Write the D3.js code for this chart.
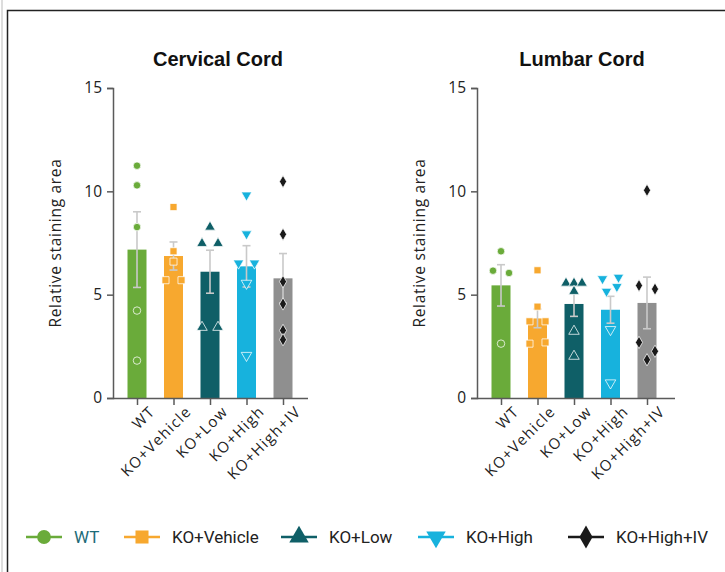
<!DOCTYPE html>
<html>
<head>
<meta charset="utf-8">
<script src="https://cdn.jsdelivr.net/npm/d3@7"></script>
<style>
  body { margin: 0; background: #fff; }
  svg { display: block; }
</style>
</head>
<body>
<svg id="chart" width="725" height="572"></svg>
<script>
// groups and colours
const groups = ["WT", "KO+Vehicle", "KO+Low", "KO+High", "KO+High+IV"];
const barColors = ["#6aab3a", "#f7a82f", "#0f5f67", "#17b2dd", "#8f8f8f"];
const dotColors = ["#6aab3a", "#f7a82f", "#0f5f67", "#17b2dd", "#1a1a1a"];
const yTicks = [0, 5, 10, 15];

// cervical cord
const cervicalMean = [7.18, 6.87, 6.11, 6.37, 5.79];
const cervicalSem = [1.83, 0.68, 1.04, 1.0, 1.2];
const cervicalPoints = [
  [11.24, 10.29, 8.27, 4.23, 1.81],
  [9.24, 7.1, 6.6, 5.7, 5.7],
  [8.27, 7.48, 7.48, 3.42, 3.42],
  [9.82, 7.94, 6.53, 6.53, 5.55, 2.06],
  [10.47, 7.92, 5.63, 4.55, 3.27, 2.82]
];
const cervicalSide = [
  [0, 0, 0, 0, 0],
  [0, 0, 0, -1, 1],
  [0, -1, 1, -1, 1],
  [0, 0, -1, 1, 0, 0],
  [0, 0, 0, 0, 0, 0]
];

// lumbar cord
const lumbarMean = [5.45, 3.85, 4.55, 4.27, 4.6];
const lumbarSem = [1.0, 0.45, 0.6, 0.65, 1.25];
const lumbarPoints = [
  [7.1, 6.16, 6.05, 2.63],
  [6.18, 4.42, 3.71, 3.71, 2.63, 2.69],
  [5.56, 5.56, 5.56, 5.16, 3.23, 2.02],
  [5.77, 5.84, 5.16, 5.39, 3.31, 0.73],
  [10.05, 5.44, 5.27, 2.69, 2.26, 1.85]
];
const lumbarSide = [
  [0, -1, 1, 0],
  [0, 0, -1, 1, -1, 1],
  [-1, 0, 1, 0, 0, 0],
  [-1, 1, -0.5, 0.8, 0, 0],
  [0, -1, 1, -1, 1, 0]
];

const svg = d3.select("#chart");
const bodyFont = "'Open Sans', Lato, sans-serif";

// outer frame
svg.append("line").attr("x1", 2).attr("x2", 2).attr("y1", 0).attr("y2", 572)
  .attr("stroke", "#bbb").attr("stroke-width", 1);
svg.append("path").attr("d", "M7.5,572V10.5H725")
  .attr("fill", "none").attr("stroke", "#222").attr("stroke-width", 1.5);

const symbols = [d3.symbolCircle, d3.symbolSquare, d3.symbolTriangle, d3.symbolTriangle, d3.symbolDiamond];
const symSizes = [44, 50, 48, 48, 44];
const symRot = [0, 0, 0, 180, 0];

function panel(title, x0, x1, means, sems, points, sides) {
  const top = 88, bottom = 398;
  const g = svg.append("g");
  const y = d3.scaleLinear().domain([0, 15]).range([bottom, top]);
  const x = d3.scalePoint().domain(groups).range([x0 + 24, x0 + 170]);
  const bw = 19;

  g.append("text").attr("x", x0 + 105).attr("y", 66)
    .attr("text-anchor", "middle")
    .style("font-family", "'Liberation Sans', Arial, sans-serif")
    .style("font-weight", "bold").style("font-size", "20px").attr("fill", "#111")
    .text(title);

  // bars
  g.selectAll("rect.bar").data(groups).enter().append("rect")
    .attr("x", d => x(d) - bw / 2).attr("width", bw)
    .attr("y", (d, i) => y(means[i]))
    .attr("height", (d, i) => bottom - y(means[i]))
    .attr("fill", (d, i) => barColors[i]);

  // error bars
  const eb = g.selectAll("g.err").data(groups).enter().append("g")
    .attr("stroke", "#c9c9c9").attr("stroke-width", 1.6).attr("fill", "none");
  eb.append("line").attr("x1", d => x(d)).attr("x2", d => x(d))
    .attr("y1", (d, i) => y(means[i] - sems[i])).attr("y2", (d, i) => y(means[i] + sems[i]));
  eb.append("line").attr("x1", d => x(d) - 4).attr("x2", d => x(d) + 4)
    .attr("y1", (d, i) => y(means[i] + sems[i])).attr("y2", (d, i) => y(means[i] + sems[i]));
  eb.append("line").attr("x1", d => x(d) - 4).attr("x2", d => x(d) + 4)
    .attr("y1", (d, i) => y(means[i] - sems[i])).attr("y2", (d, i) => y(means[i] - sems[i]));

  // points
  groups.forEach((grp, i) => {
    const pts = points[i].map((v, j) => ({ v: v, s: sides[i][j] }));
    g.selectAll(null).data(pts).enter().append("path")
      .attr("d", d3.symbol(symbols[i], symSizes[i]))
      .attr("transform", d => `translate(${x(grp) + d.s * 8},${y(d.v)}) rotate(${symRot[i]})`)
      .attr("fill", dotColors[i])
      .attr("stroke", "rgba(255,255,255,0.75)").attr("stroke-width", 1);
  });

  // y axis
  const yAxis = g.append("g").attr("transform", `translate(${x0},0)`)
    .call(d3.axisLeft(y).tickValues(yTicks).tickSize(6).tickPadding(5));
  // x axis
  const xAxis = g.append("g").attr("transform", `translate(0,${bottom})`)
    .call(d3.axisBottom(x).tickSize(7).tickPadding(3));
  xAxis.select(".domain").attr("d", `M${x0},0.5H${x1}`);
  [yAxis, xAxis].forEach(a => {
    a.select(".domain").attr("stroke", "#5a5a5a").attr("stroke-width", 1.5);
    a.selectAll(".tick line").attr("stroke", "#5a5a5a").attr("stroke-width", 1.5);
    a.selectAll("text").attr("fill", "#222")
      .style("font-family", bodyFont).style("font-size", "15.5px");
  });
  xAxis.selectAll("text")
    .style("font-size", "15px").style("letter-spacing", "1.3px")
    .attr("text-anchor", "end")
    .attr("transform", "translate(5,1) rotate(-45)")
    .attr("dy", "0.6em").attr("dx", "0");

  g.append("text")
    .attr("transform", `translate(${x0 - 57},${(top + bottom) / 2}) rotate(-90)`)
    .attr("text-anchor", "middle").attr("dy", "0.35em")
    .style("font-family", bodyFont).style("font-size", "15.5px")
    .style("letter-spacing", "0.7px")
    .attr("fill", "#222").text("Relative staining area");
}

panel("Cervical Cord", 113, 308, cervicalMean, cervicalSem, cervicalPoints, cervicalSide);
panel("Lumbar Cord", 477, 675, lumbarMean, lumbarSem, lumbarPoints, lumbarSide);

// legend
const legendX = [26, 124, 281, 418, 568];
const legend = svg.append("g").attr("transform", "translate(0,537)");
const items = legend.selectAll("g").data(groups).enter().append("g")
  .attr("transform", (d, i) => `translate(${legendX[i]},0)`);
items.append("line").attr("x1", 0).attr("x2", 36)
  .attr("stroke", (d, i) => dotColors[i]).attr("stroke-width", 2.5);
items.append("path")
  .attr("d", (d, i) => d3.symbol(symbols[i], symSizes[i] * 3.4)())
  .attr("transform", (d, i) => `translate(18,0) rotate(${symRot[i]})`)
  .attr("fill", (d, i) => dotColors[i]);
items.append("text").attr("x", 48).attr("dy", "0.36em")
  .style("font-family", "Roboto, sans-serif")
  .style("font-size", "17px")
  .attr("fill", (d, i) => i === 0 ? "#1d6b78" : "#222")
  .text(d => d);
</script>
</body>
</html>
